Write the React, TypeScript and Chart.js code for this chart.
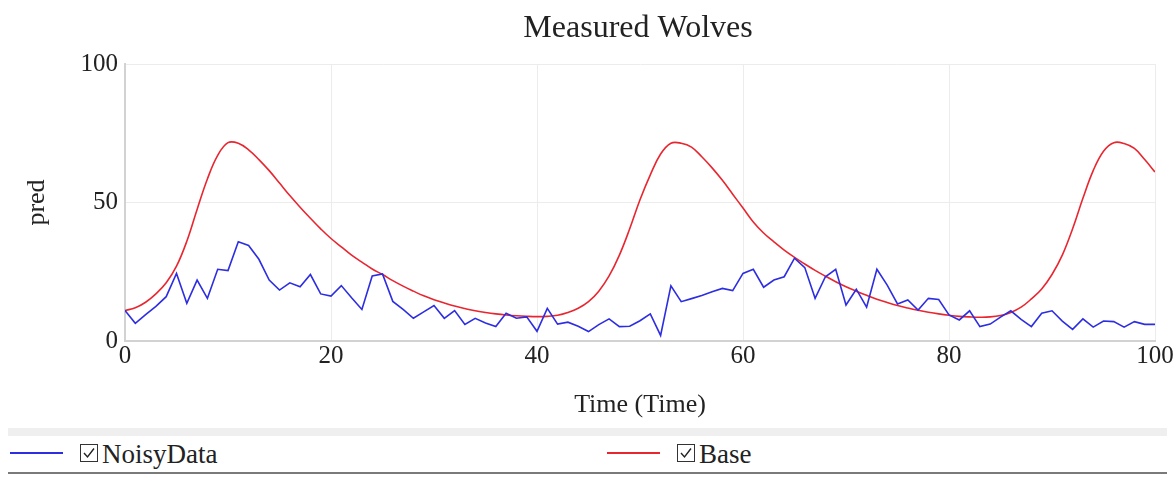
import { useEffect, useRef } from "react";
import { Chart, registerables } from "chart.js";

Chart.register(...registerables);

if (typeof document !== "undefined") {
  document.body.style.margin = "0";
}

const FONT = "'Liberation Serif', 'Times New Roman', serif";
const TITLE = "Measured Wolves";
const X_TITLE = "Time (Time)";
const Y_TITLE = "pred";

const TIME = [
  0, 1, 2, 3, 4, 5, 6, 7, 8, 9, 10, 11, 12, 13, 14, 15, 16, 17, 18, 19, 20,
  21, 22, 23, 24, 25, 26, 27, 28, 29, 30, 31, 32, 33, 34, 35, 36, 37, 38, 39, 40,
  41, 42, 43, 44, 45, 46, 47, 48, 49, 50, 51, 52, 53, 54, 55, 56, 57, 58, 59, 60,
  61, 62, 63, 64, 65, 66, 67, 68, 69, 70, 71, 72, 73, 74, 75, 76, 77, 78, 79, 80,
  81, 82, 83, 84, 85, 86, 87, 88, 89, 90, 91, 92, 93, 94, 95, 96, 97, 98, 99, 100,
];

const NOISY_DATA = [
  11, 6.4, 9.5, 12.5, 16, 24.4, 13.6, 22, 15.4, 25.9, 25.4,
  35.8, 34.5, 29.5, 22, 18.4, 21, 19.6, 24, 17, 16.2,
  20, 15.6, 11.4, 23.5, 24.2, 14.3, 11.4, 8.2, 10.5, 12.8,
  8.2, 11, 6, 8.2, 6.5, 5.2, 10, 8.2, 8.7, 3.5,
  11.8, 6.1, 6.8, 5.3, 3.4, 5.9, 8, 5.2, 5.3, 7.3,
  9.8, 2, 19.9, 14.2, 15.3, 16.4, 17.8, 19, 18.2, 24.4,
  25.9, 19.4, 22, 23.2, 29.9, 26.5, 15.4, 23.2, 25.9, 13,
  18.7, 12.2, 25.9, 20.2, 13.4, 14.8, 11.2, 15.4, 15, 9.4,
  7.6, 10.9, 5.2, 6.1, 8.6, 10.9, 7.8, 5.2, 10, 10.9,
  7.2, 4.2, 8, 5, 7.2, 7, 5, 7, 6, 6,
];

const BASE = [
  11, 12, 14, 17, 21, 27, 36, 47.5, 58.5, 67, 71.6,
  71.4, 69, 65.5, 61.5, 57, 52.5, 48.3, 44.3, 40.5, 37,
  34, 31, 28.5, 26, 24, 21.8, 19.8, 18, 16.3, 14.9,
  13.7, 12.6, 11.7, 10.9, 10.3, 9.8, 9.4, 9.1, 8.9, 8.8,
  8.9, 9.3, 10.3, 11.8, 14.2, 18, 23.5, 31, 40.5, 51,
  60, 67.5, 71.4, 71.4, 70, 66.5, 62.5, 58, 53, 48,
  43, 39, 35.8, 32.8, 30.2, 27.8, 25.5, 23.4, 21.4, 19.6,
  18, 16.5, 15.1, 13.9, 12.8, 11.9, 11.1, 10.4, 9.8, 9.3,
  8.9, 8.7, 8.6, 8.7, 9.2, 10.3, 12.2, 15.2, 18.8, 24,
  31, 40.5, 51.5, 61.5, 68.5, 71.6, 71.3, 69.5, 65.5, 61,
];

const NOISY_COLOR = "rgb(45, 45, 225)";
const BASE_COLOR = "rgb(232, 38, 48)";

function CheckBox() {
  return (
    <span
      style={{
        position: "absolute",
        width: 16,
        height: 16,
        border: "1px solid #333",
        background: "#fff",
        boxSizing: "content-box",
      }}
    >
      <svg width="16" height="16" viewBox="0 0 16 16" style={{ display: "block" }}>
        <polyline points="3,8 6.5,12 13,3.5" fill="none" stroke="#222" strokeWidth="1.4" />
      </svg>
    </span>
  );
}

function LegendItem(props: { left: number; color: string; label: string }) {
  const { left, color, label } = props;
  return (
    <div style={{ position: "absolute", left, top: 0, height: 36, width: 560 }}>
      <div
        style={{
          position: "absolute",
          left: 0,
          top: 16,
          width: 53,
          height: 2,
          background: color,
        }}
      />
      <div style={{ position: "absolute", left: 70, top: 8 }}>
        <CheckBox />
      </div>
      <div
        style={{
          position: "absolute",
          left: 92,
          top: 0,
          height: 36,
          lineHeight: "36px",
          fontFamily: FONT,
          fontSize: 27,
          color: "#222",
          whiteSpace: "nowrap",
        }}
      >
        {label}
      </div>
    </div>
  );
}

export default function App() {
  const ref = useRef<HTMLCanvasElement>(null);

  useEffect(() => {
    if (!ref.current) return;
    const titlePlugin = {
      id: "centerTitle",
      afterDraw(chart: any) {
        const { ctx, chartArea } = chart;
        ctx.save();
        ctx.font = `32px ${FONT}`;
        ctx.fillStyle = "#222";
        ctx.textAlign = "center";
        ctx.textBaseline = "middle";
        ctx.fillText(TITLE, (chartArea.left + chartArea.right) / 2 - 2, 21);
        ctx.restore();
      },
    };
    const chart = new Chart(ref.current, {
      type: "line",
      data: {
        datasets: [
          {
            label: "NoisyData",
            data: TIME.map((t, i) => ({ x: t, y: NOISY_DATA[i] })),
            borderColor: NOISY_COLOR,
            backgroundColor: NOISY_COLOR,
            borderWidth: 1.6,
            pointRadius: 0,
            tension: 0,
            fill: false,
          },
          {
            label: "Base",
            data: TIME.map((t, i) => ({ x: t, y: BASE[i] })),
            borderColor: BASE_COLOR,
            backgroundColor: BASE_COLOR,
            borderWidth: 1.6,
            pointRadius: 0,
            tension: 0.4,
            fill: false,
          },
        ],
      },
      options: {
        responsive: false,
        animation: false,
        layout: { padding: { top: 56, right: 20, left: 0, bottom: 0 } },
        plugins: {
          legend: { display: false },
          tooltip: { enabled: false },
          title: { display: false },
        },
        scales: {
          x: {
            type: "linear",
            min: 0,
            max: 100,
            ticks: {
              stepSize: 20,
              padding: 0,
              maxRotation: 0,
              color: "#222",
              font: { family: FONT, size: 25 },
            },
            grid: { color: "#ececec", drawTicks: false },
            border: { color: "#d2d2d2", width: 2 },
            title: {
              display: true,
              text: X_TITLE,
              color: "#222",
              font: { family: FONT, size: 26 },
              padding: { top: 0, bottom: 7 },
            },
            afterFit(scale: any) {
              scale.height = 87;
            },
          },
          y: {
            type: "linear",
            min: 0,
            max: 100,
            ticks: {
              stepSize: 50,
              padding: 7,
              color: "#222",
              font: { family: FONT, size: 25 },
            },
            grid: { color: "#ececec", drawTicks: false },
            border: { color: "#d2d2d2", width: 2 },
            title: {
              display: true,
              text: Y_TITLE,
              color: "#222",
              font: { family: FONT, size: 26 },
              padding: { top: 14, bottom: 0 },
            },
            afterFit(scale: any) {
              scale.width = 117;
            },
          },
        },
      },
      plugins: [titlePlugin],
    } as any);
    return () => chart.destroy();
  }, []);

  return (
    <div style={{ position: "relative", width: 1175, height: 476 }}>
      <canvas
        ref={ref}
        width={1167}
        height={420}
        style={{ position: "absolute", left: 8, top: 8, width: 1167, height: 420 }}
      />
      <div
        style={{
          position: "absolute",
          left: 8,
          top: 428,
          width: 1159,
          height: 8,
          background: "#efefef",
        }}
      />
      <div style={{ position: "absolute", left: 8, top: 436, width: 1159, height: 36 }}>
        <LegendItem left={2} color={NOISY_COLOR} label="NoisyData" />
        <LegendItem left={599} color={BASE_COLOR} label="Base" />
      </div>
      <div
        style={{
          position: "absolute",
          left: 8,
          top: 472,
          width: 1159,
          height: 2,
          background: "#7a7a7a",
        }}
      />
    </div>
  );
}
